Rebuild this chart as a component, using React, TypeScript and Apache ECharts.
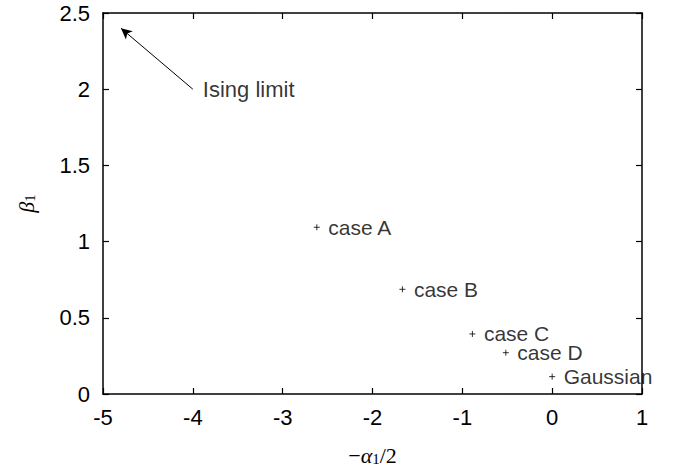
import React, { useEffect, useRef } from "react";
import * as echarts from "echarts";

const caseNames = ["case A", "case B", "case C", "case D", "Gaussian"];
const xValues = [-2.62, -1.667, -0.888, -0.516, 0.0];
const yValues = [1.094, 0.687, 0.394, 0.271, 0.114];

const arrowFrom = [-4.0, 2.0];
const arrowTo = [-4.8, 2.4];
const arrowLabel = "Ising limit";

const xMin = -5, xMax = 1, xStep = 1;
const yMin = 0, yMax = 2.5, yStep = 0.5;

const SANS = "Liberation Sans, Arial, Helvetica, sans-serif";
const SERIF = "Liberation Serif, DejaVu Serif, Times New Roman, serif";

export default function App() {
  const ref = useRef<HTMLDivElement>(null);
  useEffect(() => {
    if (!ref.current) return;
    const chart = echarts.init(ref.current, null, { renderer: "svg" });
    const axisLine = { show: true, onZero: false, lineStyle: { color: "#000", width: 1.5 } };
    const axisTick = { show: true, inside: true, length: 6, lineStyle: { color: "#000", width: 1.2 } };
    const lbl = { color: "#000", fontSize: 22, fontFamily: SANS };
    chart.setOption({
      animation: false,
      backgroundColor: "#fff",
      grid: { left: 103, right: 38, top: 13, bottom: 74, containLabel: false, outerBoundsMode: "none" },
      xAxis: [
        {
          type: "value", min: xMin, max: xMax, interval: xStep, position: "bottom",
          axisLine, axisTick, splitLine: { show: false },
          axisLabel: { ...lbl, margin: 12 },
          name: "{m|−}{a|α}{s|1}{m|/2}",
          nameLocation: "middle", nameGap: 50,
          nameTextStyle: {
            lineHeight: 22,
            rich: {
              m: { fontFamily: SERIF, fontSize: 22, lineHeight: 22, color: "#000" },
              a: { fontFamily: SERIF, fontSize: 22, lineHeight: 22, fontStyle: "italic", color: "#000" },
              s: { fontFamily: SERIF, fontSize: 15, lineHeight: 15, color: "#000", verticalAlign: "bottom" },
            },
          },
        },
        {
          type: "value", min: xMin, max: xMax, interval: xStep, position: "top",
          axisLine, axisTick, splitLine: { show: false }, axisLabel: { show: false },
        },
      ],
      yAxis: [
        {
          type: "value", min: yMin, max: yMax, interval: yStep, position: "left",
          axisLine, axisTick, splitLine: { show: false },
          axisLabel: { ...lbl, margin: 13 },
          name: "{a|β}{s|1}",
          nameLocation: "middle", nameGap: 66, nameRotate: 90,
          nameTextStyle: {
            lineHeight: 22,
            rich: {
              a: { fontFamily: SERIF, fontSize: 22, lineHeight: 22, fontStyle: "italic", color: "#000" },
              s: { fontFamily: SERIF, fontSize: 15, lineHeight: 15, color: "#000", verticalAlign: "bottom" },
            },
          },
        },
        {
          type: "value", min: yMin, max: yMax, interval: yStep, position: "right",
          axisLine, axisTick, splitLine: { show: false }, axisLabel: { show: false },
        },
      ],
      series: [
        {
          type: "scatter",
          symbol: "path://M5,0L5,10M0,5L10,5",
          symbolSize: 6,
          itemStyle: { color: "none", borderColor: "#000", borderWidth: 1 },
          data: xValues.map((x, i) => ({ value: [x, yValues[i]], name: caseNames[i] })),
          label: {
            show: true, position: "right", distance: 6,
            formatter: (p: any) => p.name,
            ...lbl,
            fontSize: 21,
            lineHeight: 15,
          },
        },
        {
          type: "scatter",
          symbolSize: 0,
          data: [{ value: arrowFrom, name: arrowLabel }],
          label: { show: true, position: "right", distance: 10, formatter: (p: any) => p.name, ...lbl },
          markLine: {
            silent: true,
            symbol: ["none", "arrow"],
            symbolSize: [8, 11],
            label: { show: false },
            lineStyle: { color: "#000", width: 1, type: "solid" },
            data: [[{ coord: arrowFrom }, { coord: arrowTo }]],
          },
        },
      ],
    });
    return () => chart.dispose();
  }, []);
  return <div ref={ref} style={{ width: 680, height: 468, position: "absolute", left: 0, top: 0 }} />;
}
